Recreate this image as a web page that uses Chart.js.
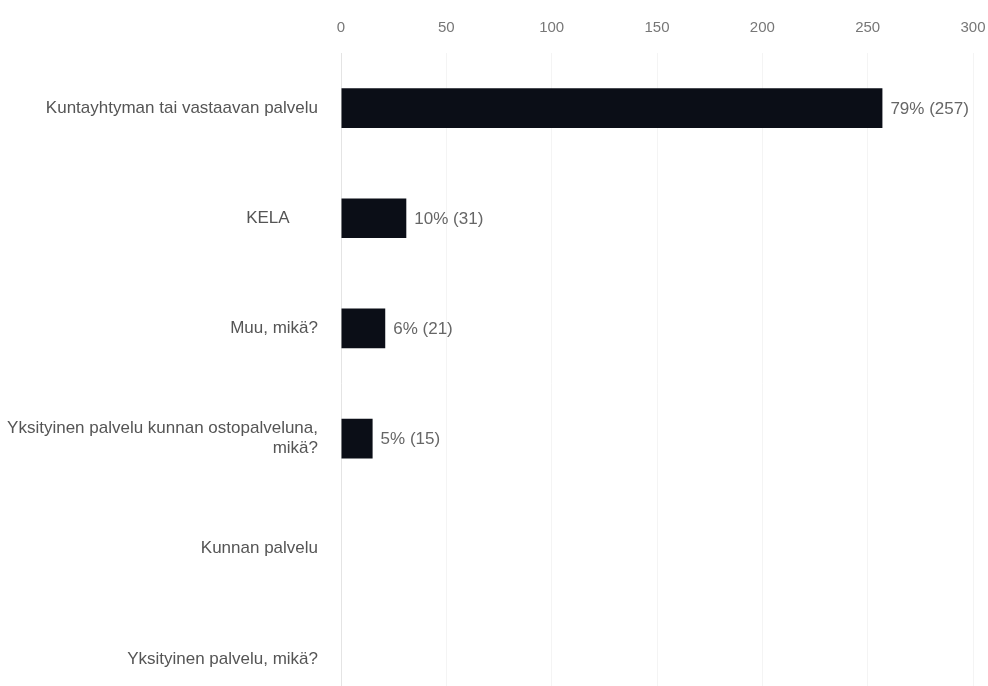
<!DOCTYPE html>
<html lang="fi">
<head>
<meta charset="utf-8">
<title>Palvelut</title>
<script src="https://cdn.jsdelivr.net/npm/chart.js@4"></script>
<style>
  html, body { margin: 0; padding: 0; background: #fff; overflow: hidden; }
  canvas { display: block; }
</style>
</head>
<body>
<canvas id="serviceChart" width="988" height="747"></canvas>
<script>
const categories = [
  'Kuntayhtyman tai vastaavan palvelu',
  'KELA      ',
  'Muu, mikä?',
  ['Yksityinen palvelu kunnan ostopalveluna,', 'mikä?'],
  'Kunnan palvelu',
  'Yksityinen palvelu, mikä?'
];
const counts = [257, 31, 21, 15, 0, 0];
const percents = [79, 10, 6, 5, 0, 0];
const tickValues = [0, 50, 100, 150, 200, 250, 300];

const FONT = "'Liberation Sans', Arial, sans-serif";

// writes "NN% (n)" just past the end of each non-empty bar
const valueLabels = {
  id: 'valueLabels',
  afterDatasetsDraw(chart) {
    const { ctx } = chart;
    const meta = chart.getDatasetMeta(0);
    ctx.save();
    ctx.font = `17px ${FONT}`;
    ctx.fillStyle = '#666';
    ctx.textAlign = 'left';
    ctx.textBaseline = 'middle';
    meta.data.forEach((bar, i) => {
      if (!counts[i]) return;
      ctx.fillText(`${percents[i]}% (${counts[i]})`, bar.x + 8, bar.y + 1);
    });
    ctx.restore();
  }
};

new Chart(document.getElementById('serviceChart'), {
  type: 'bar',
  data: {
    labels: categories,
    datasets: [{
      data: counts,
      backgroundColor: '#0b0e17',
      categoryPercentage: 1,
      barPercentage: 0.36
    }]
  },
  options: {
    indexAxis: 'y',
    responsive: false,
    animation: false,
    layout: { padding: { top: 20, left: 0, right: 15, bottom: 0 } },
    plugins: {
      legend: { display: false },
      tooltip: { enabled: false }
    },
    scales: {
      x: {
        position: 'top',
        min: 0,
        max: 300,
        afterBuildTicks(scale) {
          scale.ticks = tickValues.map((v) => ({ value: v }));
        },
        afterFit(scale) {
          scale.height = 33;
          scale.paddingLeft = 0;
          scale.paddingRight = 0;
        },
        ticks: {
          padding: 16,
          color: '#777',
          font: { family: FONT, size: 15 }
        },
        grid: { color: '#f4f4f4', drawTicks: false },
        border: { display: false }
      },
      y: {
        afterFit(scale) { scale.width = 341; },
        ticks: {
          padding: 23,
          color: '#555',
          font: { family: FONT, size: 17, lineHeight: 1.18 }
        },
        grid: { display: false, drawTicks: false },
        border: { color: '#e4e4e4' }
      }
    }
  },
  plugins: [valueLabels]
});
</script>
</body>
</html>
